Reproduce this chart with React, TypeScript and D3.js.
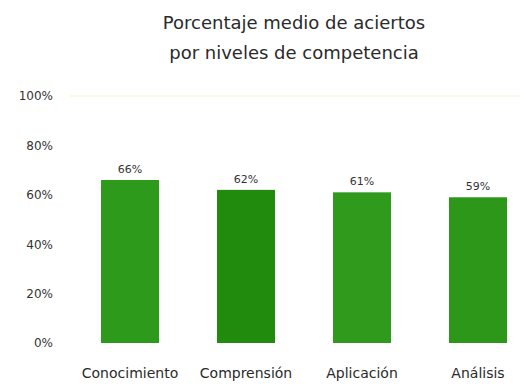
import { useEffect, useRef } from 'react'
import * as d3 from 'd3'

const categories = ['Conocimiento', 'Comprensión', 'Aplicación', 'Análisis']
const values = [66, 62, 61, 59]
const barColors = ['#2e9a1b', '#208b0c', '#2f9a1c', '#2d971a']
const yTicks = [0, 20, 40, 60, 80, 100]
const titleLines = ['Porcentaje medio de aciertos', 'por niveles de competencia']

const W = 524
const H = 388
const FONT = "'DejaVu Sans', sans-serif"

export default function App() {
  const ref = useRef<SVGSVGElement | null>(null)

  useEffect(() => {
    const svg = d3.select(ref.current)
    svg.selectAll('*').remove()

    const xScale = d3.scaleBand().domain(categories).range([101, 507]).paddingInner(0.5).paddingOuter(0)
    const yScale = d3.scaleLinear().domain([0, 100]).range([343, 96])

    svg.append('rect').attr('width', W).attr('height', H).attr('fill', '#ffffff')

    // title
    svg
      .append('g')
      .selectAll('text')
      .data(titleLines)
      .enter()
      .append('text')
      .attr('x', 294)
      .attr('y', (d, i) => 29 + i * 30)
      .attr('text-anchor', 'middle')
      .attr('font-family', FONT)
      .attr('font-size', 18)
      .attr('fill', '#2a2a2a')
      .text((d) => d)

    // faint line at top
    svg
      .append('line')
      .attr('x1', 70)
      .attr('x2', 520)
      .attr('y1', yScale(100))
      .attr('y2', yScale(100))
      .attr('stroke', '#fbf8e6')
      .attr('stroke-width', 2)

    // y axis
    const yAxis = svg
      .append('g')
      .attr('transform', 'translate(53,0)')
      .call(d3.axisLeft(yScale).tickValues(yTicks).tickSize(0).tickPadding(0).tickFormat((d) => `${d}%`))
    yAxis.select('.domain').remove()
    yAxis
      .selectAll('text')
      .attr('font-family', FONT)
      .attr('font-size', 12)
      .attr('fill', '#333')

    // bars
    svg
      .selectAll('.bar')
      .data(values)
      .enter()
      .append('rect')
      .attr('class', 'bar')
      .attr('x', (d, i) => xScale(categories[i])!)
      .attr('y', (d) => yScale(d))
      .attr('width', xScale.bandwidth())
      .attr('height', (d) => yScale(0) - yScale(d))
      .attr('fill', (d, i) => barColors[i])

    // value labels
    svg
      .selectAll('.val')
      .data(values)
      .enter()
      .append('text')
      .attr('class', 'val')
      .attr('x', (d, i) => xScale(categories[i])! + xScale.bandwidth() / 2)
      .attr('y', (d) => yScale(d) - 7)
      .attr('text-anchor', 'middle')
      .attr('font-family', FONT)
      .attr('font-size', 11)
      .attr('fill', '#333')
      .text((d) => `${d}%`)

    // x axis
    const xAxis = svg
      .append('g')
      .attr('transform', 'translate(0,343)')
      .call(d3.axisBottom(xScale).tickSize(0).tickPadding(25))
    xAxis.select('.domain').remove()
    xAxis
      .selectAll('text')
      .attr('font-family', FONT)
      .attr('font-size', 14)
      .attr('fill', '#2a2a2a')
  }, [])

  return (
    <svg
      ref={ref}
      width={W}
      height={H}
      style={{ position: 'absolute', left: 0, top: 0 }}
    />
  )
}
